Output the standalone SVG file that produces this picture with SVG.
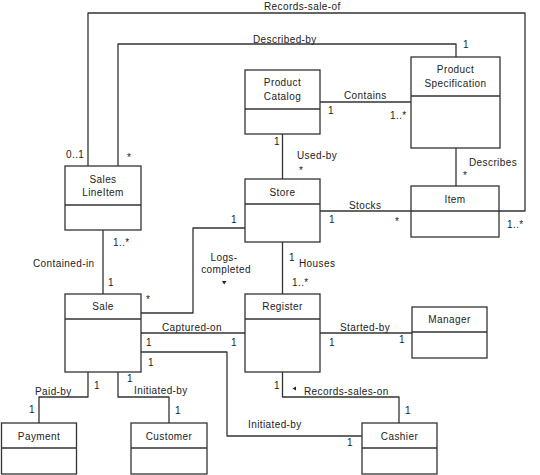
<svg xmlns="http://www.w3.org/2000/svg" width="540" height="475" viewBox="0 0 540 475">
<style>
.box{fill:#fff;stroke:#333;stroke-width:1.3}
.div{stroke:#333;stroke-width:1.3}
.con{fill:none;stroke:#333;stroke-width:1.3;stroke-linejoin:round}
text{font-family:"Liberation Sans",Arial,sans-serif;font-size:10px;fill:#222;letter-spacing:0.4px}
.c{text-anchor:middle}
.tri{fill:#222}
</style>
<rect width="540" height="475" fill="#fff"/>
<g id="connectors">
<polyline class="con" points="88,166 88,13 525,13 525,211 499,211"/>
<polyline class="con" points="118,166 118,44 456,44 456,57"/>
<line class="con" x1="320" y1="102" x2="411" y2="102"/>
<line class="con" x1="282.5" y1="134" x2="282.5" y2="179"/>
<line class="con" x1="456" y1="148" x2="456" y2="186"/>
<line class="con" x1="320" y1="211" x2="411" y2="211"/>
<polyline class="con" points="245,228 193,228 193,313 141,313"/>
<line class="con" x1="103" y1="230" x2="103" y2="294"/>
<line class="con" x1="282.5" y1="242" x2="282.5" y2="294"/>
<line class="con" x1="141" y1="333" x2="245" y2="333"/>
<line class="con" x1="320" y1="333" x2="412" y2="333"/>
<polyline class="con" points="141,352 227,352 227,436 362,436"/>
<polyline class="con" points="282.5,372 282.5,397 399,397 399,423"/>
<polyline class="con" points="88,372 88,397 39,397 39,423"/>
<polyline class="con" points="118,372 118,397 169,397 169,423"/>
<text x="264" y="10">Records-sale-of</text>
<text x="253" y="43">Described-by</text>
<text x="463" y="48">1</text>
<text x="66" y="158">0..1</text>
<text x="127" y="161">*</text>
<text x="344" y="99">Contains</text>
<text x="328" y="114">1</text>
<text x="390" y="119">1..*</text>
<text x="274" y="145">1</text>
<text x="297" y="159">Used-by</text>
<text x="299" y="174">*</text>
<text x="469" y="166">Describes</text>
<text x="463" y="179">*</text>
<text x="349" y="209">Stocks</text>
<text x="329" y="223">1</text>
<text x="395" y="225">*</text>
<text x="507" y="228">1..*</text>
<text x="231" y="223">1</text>
<text x="146" y="303">*</text>
<text class="c" x="224" y="261">Logs-</text>
<text class="c" x="226" y="273">completed</text>
<polygon class="tri" points="222,281 226.5,281 224.2,284.5"/>
<text x="113" y="246">1..*</text>
<text x="33" y="267">Contained-in</text>
<text x="108" y="286">1</text>
<text x="289" y="261">1</text>
<text x="299" y="267">Houses</text>
<text x="292" y="286">1..*</text>
<text x="162" y="331">Captured-on</text>
<text x="146" y="346">1</text>
<text x="231" y="346">1</text>
<text x="340" y="331">Started-by</text>
<text x="329" y="346">1</text>
<text x="399" y="343">1</text>
<text x="148" y="366">1</text>
<text x="248" y="428">Initiated-by</text>
<text x="347" y="446">1</text>
<text x="274" y="389">1</text>
<polygon class="tri" points="292.5,388.5 296,386.5 296,390.5"/>
<text x="304" y="395">Records-sales-on</text>
<text x="405" y="414">1</text>
<text x="94" y="389">1</text>
<text x="35" y="395">Paid-by</text>
<text x="29" y="413">1</text>
<text x="127" y="382">1</text>
<text x="134" y="394">Initiated-by</text>
<text x="175" y="414">1</text>
</g>
<g id="SalesLineItem">
<rect class="box" x="65" y="166" width="76" height="64"/>
<line class="div" x1="65" y1="205" x2="141" y2="205"/>
<text class="c" x="103" y="182.5">Sales</text>
<text class="c" x="103" y="196">LineItem</text>
</g>
<g id="ProductCatalog">
<rect class="box" x="245" y="70" width="75" height="64"/>
<line class="div" x1="245" y1="109" x2="320" y2="109"/>
<text class="c" x="282.5" y="85.5">Product</text>
<text class="c" x="282.5" y="99.5">Catalog</text>
</g>
<g id="ProductSpecification">
<rect class="box" x="411" y="57" width="89" height="91"/>
<line class="div" x1="411" y1="96" x2="500" y2="96"/>
<text class="c" x="455.5" y="73">Product</text>
<text class="c" x="455.5" y="86.5">Specification</text>
</g>
<g id="Store">
<rect class="box" x="245" y="179" width="75" height="63"/>
<line class="div" x1="245" y1="204" x2="320" y2="204"/>
<text class="c" x="282.5" y="195.5">Store</text>
</g>
<g id="Item">
<rect class="box" x="411" y="186" width="88" height="51"/>
<line class="div" x1="411" y1="211" x2="499" y2="211"/>
<text class="c" x="455" y="202.5">Item</text>
</g>
<g id="Sale">
<rect class="box" x="65" y="294" width="76" height="78"/>
<line class="div" x1="65" y1="319" x2="141" y2="319"/>
<text class="c" x="103" y="310">Sale</text>
</g>
<g id="Register">
<rect class="box" x="245" y="294" width="75" height="78"/>
<line class="div" x1="245" y1="319" x2="320" y2="319"/>
<text class="c" x="282.5" y="310">Register</text>
</g>
<g id="Manager">
<rect class="box" x="412" y="307" width="75" height="51"/>
<line class="div" x1="412" y1="332" x2="487" y2="332"/>
<text class="c" x="449.5" y="323">Manager</text>
</g>
<g id="Payment">
<rect class="box" x="1.5" y="423" width="75" height="51"/>
<line class="div" x1="1.5" y1="448" x2="76.5" y2="448"/>
<text class="c" x="39" y="440">Payment</text>
</g>
<g id="Customer">
<rect class="box" x="131" y="423" width="76" height="51"/>
<line class="div" x1="131" y1="448" x2="207" y2="448"/>
<text class="c" x="169" y="440">Customer</text>
</g>
<g id="Cashier">
<rect class="box" x="362" y="423" width="75" height="51"/>
<line class="div" x1="362" y1="448" x2="437" y2="448"/>
<text class="c" x="399.5" y="440">Cashier</text>
</g>
</svg>
